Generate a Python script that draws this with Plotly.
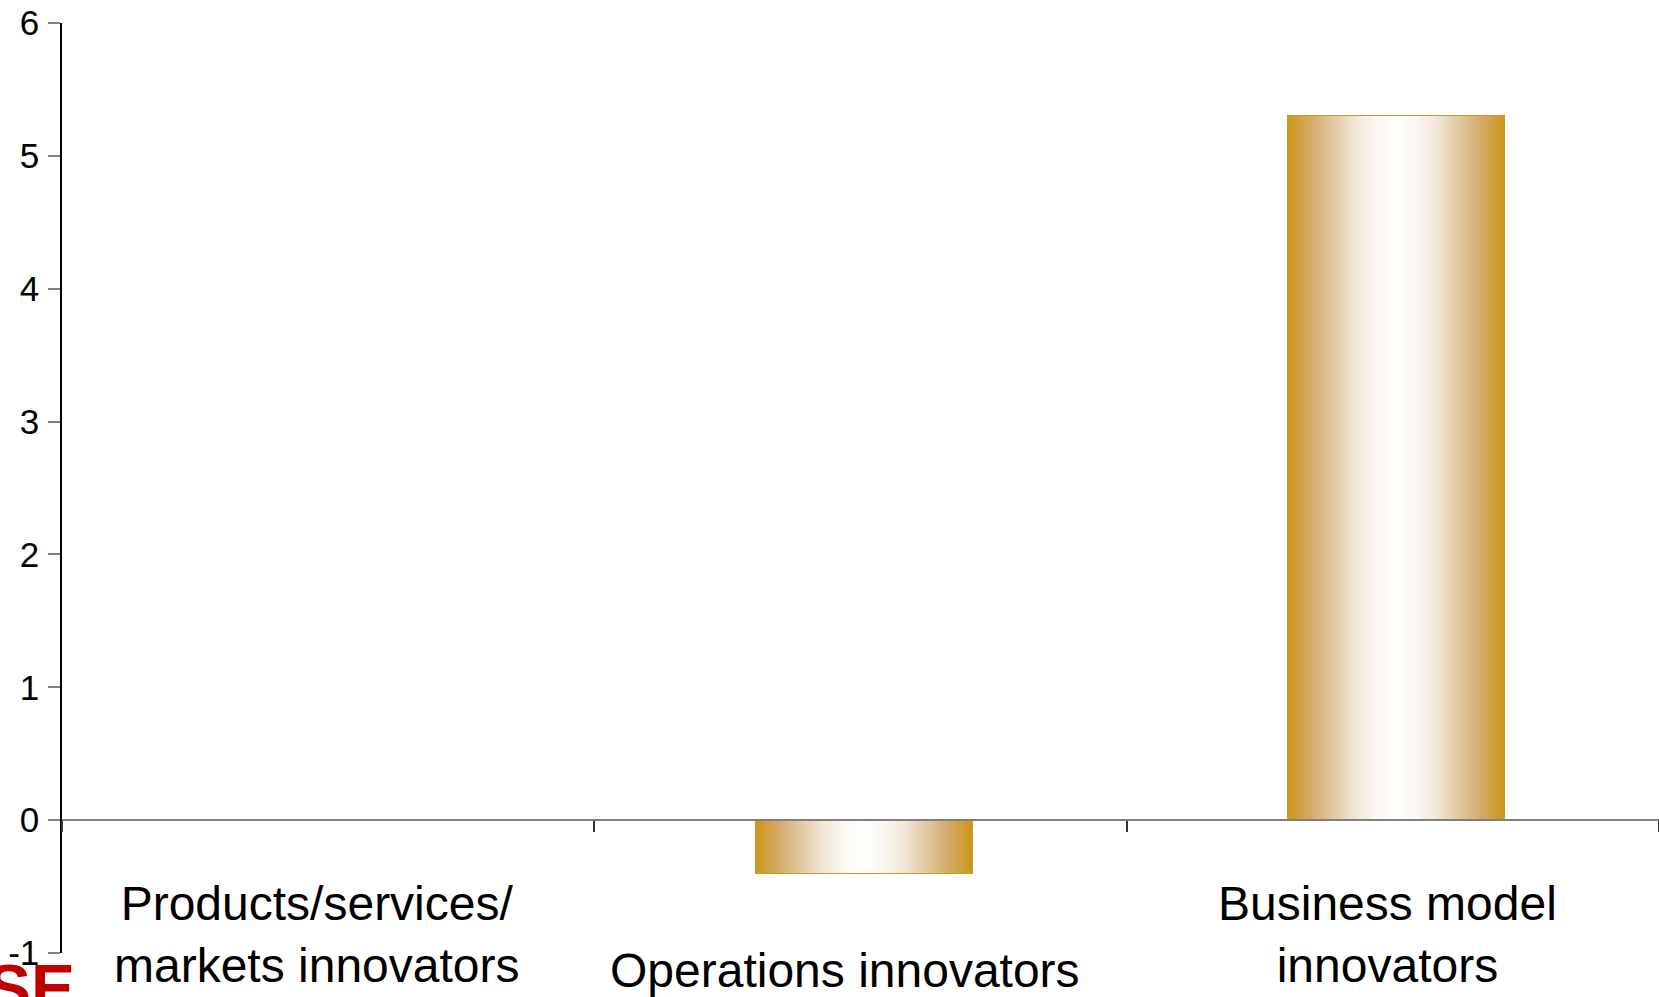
import plotly.graph_objects as go

# ---- data ----
categories = ["Products/services/ markets innovators", "Operations innovators", "Business model innovators"]
label_text = ["Products/services/<br>markets innovators", "Operations innovators", "Business model<br>innovators"]
values = [0.0, -0.40, 5.3]
y_ticks = [-1, 0, 1, 2, 3, 4, 5, 6]

# ---- style ----
BAR_W = 0.406
BAR_SHIFT = 0.006
N_STEPS = 40
GOLD = "#CC9A1C"
stops = [  # (distance from centre: 1=edge, 0=centre), rgb
    (1.0, (204, 153, 28)),
    (0.8, (212, 170, 105)),
    (0.6, (225, 199, 160)),
    (0.4, (241, 229, 213)),
    (0.2, (251, 247, 241)),
    (0.0, (255, 255, 255)),
]


def grad_color(d):
    for (d1, c1), (d0, c0) in zip(stops[:-1], stops[1:]):
        if d0 <= d <= d1:
            t = (d - d0) / (d1 - d0) if d1 > d0 else 0
            c = [round(c0[i] + (c1[i] - c0[i]) * t) for i in range(3)]
            return f"rgb({c[0]},{c[1]},{c[2]})"
    return "rgb(255,255,255)"


fig = go.Figure()

for k in range(N_STEPS):
    d = 1 - k / N_STEPS
    w = BAR_W * d
    fig.add_trace(go.Bar(
        x=categories, y=values,
        width=w, offset=-w / 2 + BAR_SHIFT,
        marker=dict(color=grad_color(d),
                    line=dict(color=GOLD, width=2 if k == 0 else 0)),
        showlegend=False, hoverinfo="skip" if k else "y",
        xaxis="x", yaxis="y",
    ))

# helper (invisible) trace for the zero-level category axis
fig.add_trace(go.Scatter(x=categories, y=[0] * len(categories), mode="markers",
                         marker=dict(opacity=0), showlegend=False, hoverinfo="skip",
                         xaxis="x2", yaxis="y"))

for cat, txt, yp, xs in zip(categories, label_text, [0.0204, -0.0193, 0.0204], [-11, -16, -5]):
    fig.add_annotation(x=cat, y=yp, xref="x", yref="paper", text=txt, showarrow=False,
                       xanchor="center", yanchor="middle", xshift=xs,
                       font=dict(family="Liberation Sans, Arial", size=48, color="black"))

# partial red logo at bottom-left
fig.add_annotation(x=-0.048, y=0.004, xref="paper", yref="paper", text="<b>SE</b>",
                   showarrow=False, xanchor="left", yanchor="top",
                   font=dict(family="Liberation Sans, Arial", size=66, color="#C00000"))

fig.update_layout(
    width=1659, height=997,
    margin=dict(l=62, r=0, t=23, b=44),
    paper_bgcolor="white", plot_bgcolor="white",
    barmode="overlay",
    bargap=0,
    showlegend=False,
    xaxis=dict(type="category", categoryarray=categories, range=[-0.5, 2.5],
               showline=False, ticks="", showticklabels=False, showgrid=False, zeroline=False),
    xaxis2=dict(type="category", categoryarray=categories, range=[-0.5, 2.5],
                overlaying="x", anchor="free", position=1 / 7,
                showline=True, linecolor="#808080", linewidth=1.5,
                ticks="outside", tickson="boundaries", ticklen=11, tickcolor="#333333", tickwidth=1.5,
                showticklabels=False, showgrid=False, zeroline=False),
    yaxis=dict(range=[-1, 6], tickvals=y_ticks, ticktext=[str(v) for v in y_ticks],
               showline=True, linecolor="black", linewidth=1.5,
               ticks="outside", ticklen=12, tickcolor="#808080", tickwidth=1.5,
               ticklabelstandoff=2,
               tickfont=dict(family="Liberation Sans, Arial", size=35, color="black"),
               showgrid=False, zeroline=False),
)

fig.write_html("out.html")
